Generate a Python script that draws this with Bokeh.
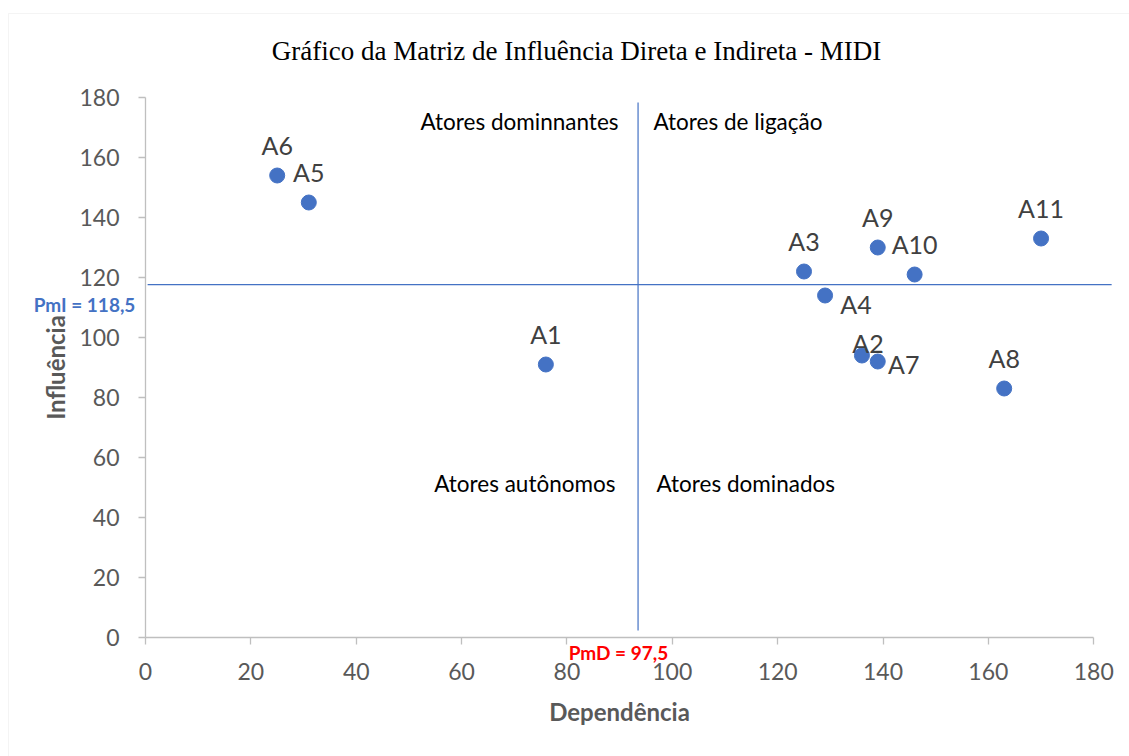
from bokeh.plotting import figure
from bokeh.models import (ColumnDataSource, Label, LabelSet, Range1d, FixedTicker,
                          LinearAxis, BoxAnnotation)
from bokeh.embed import file_html
from bokeh.resources import INLINE
from bokeh.core.properties import value

# ---------------- data ----------------
actors = ["A1", "A2", "A3", "A4", "A5", "A6", "A7", "A8", "A9", "A10", "A11"]
dependencia = [76, 136, 125, 129, 31, 25, 139, 163, 139, 146, 170]
influencia = [91, 94, 122, 114, 145, 154, 92, 83, 130, 121, 133]

axis_ticks = [0, 20, 40, 60, 80, 100, 120, 140, 160, 180]
title_text = "Gráfico da Matriz de Influência Direta e Indireta - MIDI"
x_title = "Dependência"
y_title = "Influência"
pmd_text = "PmD = 97,5"
pmi_text = "PmI = 118,5"
quadrant_texts = ["Atores dominnantes", "Atores de ligação", "Atores autônomos", "Atores dominados"]

# drawn position of the dividing lines
divider_x = 93.5
divider_y = 117.6

# ---------------- styling / placement ----------------
W, H = 1129, 756
label_dx = {"A2": 6, "A4": 31, "A7": 26}
label_dy = {"A2": 13, "A4": -8, "A7": -2}

BLUE = "#4472C4"
AXIS_GRAY = "#bfbfbf"
TICK_TXT = "#595959"
FONT = "Lato"

src = ColumnDataSource(dict(
    x=dependencia,
    y=influencia,
    name=actors,
    dx=[label_dx.get(a, 0) for a in actors],
    dy=[label_dy.get(a, 31) for a in actors],
))

# frame spans the whole canvas; axes are pinned at 0 with fixed_location
px_x = 5.268   # pixels per unit (x)
px_y = 3.0     # pixels per unit (y)
x0_px, y0_px = 145, 637
x_rng = Range1d(-x0_px / px_x, (W - x0_px) / px_x)
y_rng = Range1d(-(H - y0_px) / px_y, y0_px / px_y)

p = figure(width=W, height=H, output_backend="svg", toolbar_location=None,
           x_range=x_rng, y_range=y_rng, x_axis_location=None, y_axis_location=None,
           min_border=0)
p.outline_line_color = None
p.background_fill_color = "white"
p.border_fill_color = "white"
p.grid.visible = False

xaxis = LinearAxis(fixed_location=0, axis_label=x_title)
yaxis = LinearAxis(fixed_location=0, axis_label=y_title)
for ax in (xaxis, yaxis):
    ax.bounds = (0, 180)
    ax.ticker = FixedTicker(ticks=axis_ticks)
    ax.axis_line_color = AXIS_GRAY
    ax.axis_line_width = 1.3
    ax.major_tick_line_color = AXIS_GRAY
    ax.major_tick_line_width = 1.3
    ax.major_tick_out = 7
    ax.major_tick_in = 0
    ax.minor_tick_line_color = None
    ax.major_label_text_font = FONT
    ax.major_label_text_font_size = "23px"
    ax.major_label_text_color = TICK_TXT
    ax.axis_label_text_font = FONT
    ax.axis_label_text_font_size = "24px"
    ax.axis_label_text_font_style = "bold"
    ax.axis_label_text_color = TICK_TXT
xaxis.major_label_standoff = 18
yaxis.major_label_standoff = 19
xaxis.axis_label_standoff = 14
yaxis.axis_label_standoff = 6
p.add_layout(xaxis, "below")
p.add_layout(yaxis, "left")

# outer light-gray chart border
p.add_layout(BoxAnnotation(left=8, right=W + 20, bottom=-20, top=H - 13,
                           left_units="screen", right_units="screen",
                           bottom_units="screen", top_units="screen",
                           fill_alpha=0, line_color="#d9d9d9", line_width=1))

# dividing lines
p.segment(x0=[divider_x], y0=[2.3], x1=[divider_x], y1=[178.3], line_color=BLUE, line_width=1.2)
p.segment(x0=[0.4], y0=[divider_y], x1=[183.4], y1=[divider_y], line_color=BLUE, line_width=1.2)

# points
p.scatter("x", "y", source=src, size=15, fill_color=BLUE, line_color=BLUE)

labels = LabelSet(x="x", y="y", text="name", source=src, x_offset="dx", y_offset="dy",
                  text_font=value(FONT), text_font_size="25px", text_color="#404040",
                  text_align="center", text_baseline="middle")
p.add_layout(labels)

# title
p.add_layout(Label(x=576, y=H - 50, x_units="screen", y_units="screen", text=title_text,
                   text_font="Liberation Serif", text_font_size="27px", text_color="black",
                   text_align="center", text_baseline="middle"))

# quadrant labels
quad_pos = [(618, H - 121, "right"), (653, H - 121, "left"),
            (615, H - 483, "right"), (656, H - 483, "left")]
for t, (qx, qy, al) in zip(quadrant_texts, quad_pos):
    p.add_layout(Label(x=qx, y=qy, x_units="screen", y_units="screen", text=t,
                       text_font=FONT, text_font_size="22.5px", text_color="black",
                       text_align=al, text_baseline="middle"))

# mean labels
p.add_layout(Label(x=84, y=H - 304, x_units="screen", y_units="screen", text=pmi_text,
                   text_font=FONT, text_font_size="19px", text_font_style="bold",
                   text_color=BLUE, text_align="center", text_baseline="middle"))
p.add_layout(Label(x=618, y=H - 652, x_units="screen", y_units="screen", text=pmd_text,
                   text_font=FONT, text_font_size="19px", text_font_style="bold",
                   text_color="#ff0000", text_align="center", text_baseline="middle"))

open("out.html", "w").write(file_html(p, INLINE))
